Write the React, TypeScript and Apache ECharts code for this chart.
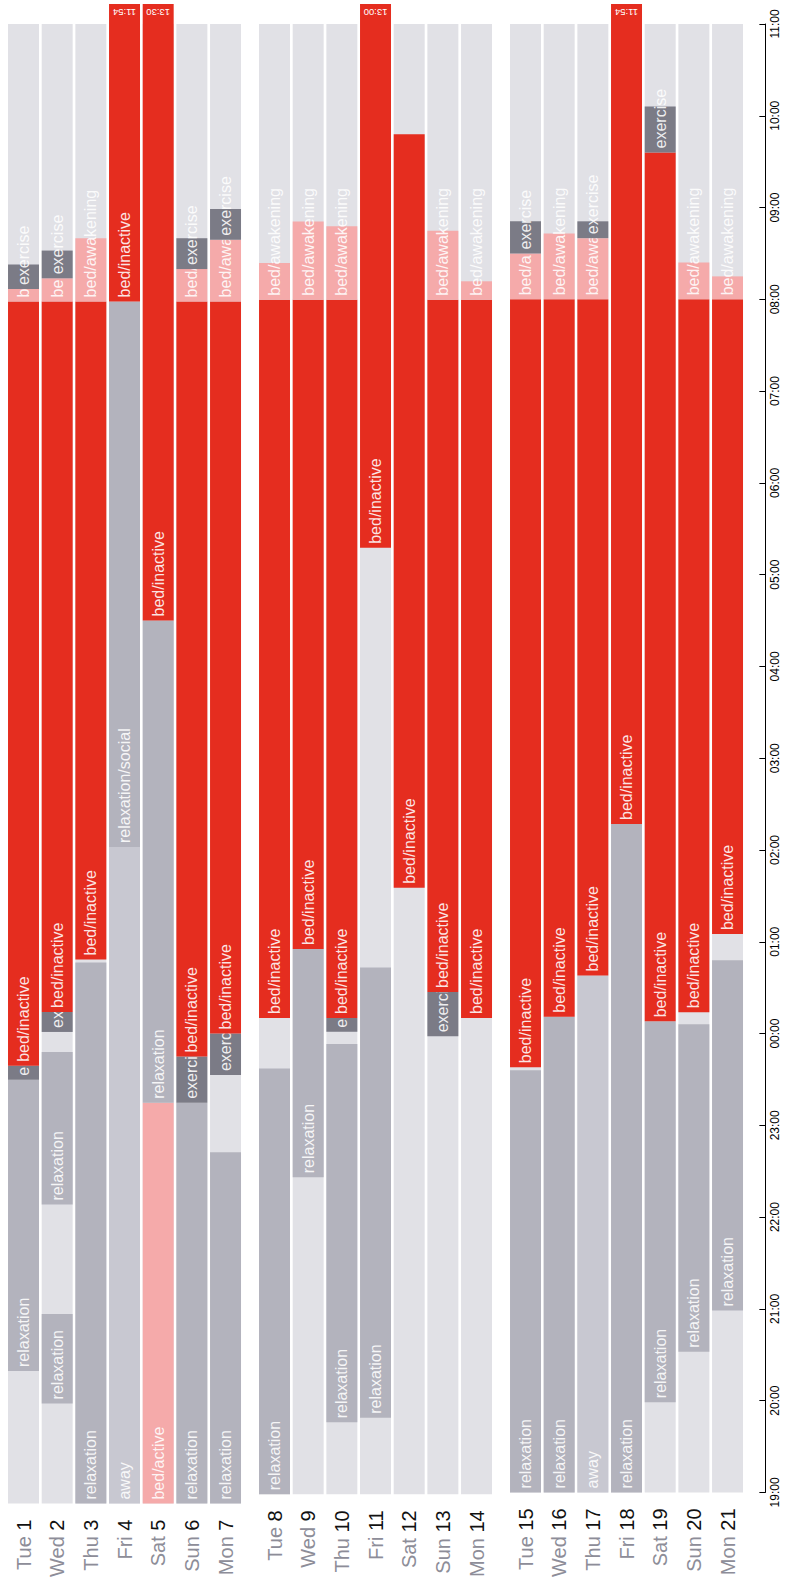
import React, { useEffect, useRef } from "react";
import * as echarts from "echarts";

const FONT = "'Helvetica Neue', Helvetica, Arial, 'Liberation Sans', sans-serif";

const days = [
  "Tue 1", "Wed 2", "Thu 3", "Fri 4", "Sat 5", "Sun 6", "Mon 7",
  "Tue 8", "Wed 9", "Thu 10", "Fri 11", "Sat 12", "Sun 13", "Mon 14",
  "Tue 15", "Wed 16", "Thu 17", "Fri 18", "Sat 19", "Sun 20", "Mon 21",
];

const timeTicks = [
  "19:00", "20:00", "21:00", "22:00", "23:00", "00:00", "01:00", "02:00", "03:00",
  "04:00", "05:00", "06:00", "07:00", "08:00", "09:00", "10:00", "11:00",
];

const activityColors: Record<string, string> = {
  "relaxation": "#b3b3bd",
  "relaxation/social": "#b3b3bd",
  "away": "#c8c8d1",
  "exercise": "#7b7b86",
  "bed/inactive": "#e52d1f",
  "bed/awakening": "#f5aaaa",
  "bed/active": "#f5aaaa",
};
const emptyColor = "#e1e1e6";

// [day index within week, start, end, activity]
const week1: [number, string, string, string][] = [
  [0, "20:26", "23:35", "relaxation"],
  [0, "23:35", "23:44", "exercise"],
  [0, "23:44", "08:00", "bed/inactive"],
  [0, "08:00", "08:08", "bed/awakening"],
  [0, "08:08", "08:24", "exercise"],
  [1, "20:05", "21:03", "relaxation"],
  [1, "22:14", "23:53", "relaxation"],
  [1, "00:06", "00:19", "exercise"],
  [1, "00:19", "08:00", "bed/inactive"],
  [1, "08:00", "08:15", "bed/awakening"],
  [1, "08:15", "08:33", "exercise"],
  [2, "19:00", "00:51", "relaxation"],
  [2, "00:53", "08:00", "bed/inactive"],
  [2, "08:00", "08:41", "bed/awakening"],
  [3, "19:00", "02:06", "away"],
  [3, "02:06", "08:00", "relaxation/social"],
  [3, "08:00", "11:54", "bed/inactive"],
  [4, "19:00", "23:20", "bed/active"],
  [4, "23:20", "04:33", "relaxation"],
  [4, "04:33", "13:30", "bed/inactive"],
  [5, "19:00", "23:20", "relaxation"],
  [5, "23:20", "23:50", "exercise"],
  [5, "23:50", "08:00", "bed/inactive"],
  [5, "08:00", "08:21", "bed/awakening"],
  [5, "08:21", "08:41", "exercise"],
  [6, "19:00", "22:48", "relaxation"],
  [6, "23:38", "00:05", "exercise"],
  [6, "00:05", "08:00", "bed/inactive"],
  [6, "08:00", "08:40", "bed/awakening"],
  [6, "08:40", "09:00", "exercise"],
];

const week2: [number, string, string, string][] = [
  [0, "19:00", "23:38", "relaxation"],
  [0, "00:11", "08:00", "bed/inactive"],
  [0, "08:00", "08:24", "bed/awakening"],
  [1, "22:27", "00:56", "relaxation"],
  [1, "00:56", "08:00", "bed/inactive"],
  [1, "08:00", "08:51", "bed/awakening"],
  [2, "19:47", "23:54", "relaxation"],
  [2, "00:02", "00:11", "exercise"],
  [2, "00:11", "08:00", "bed/inactive"],
  [2, "08:00", "08:48", "bed/awakening"],
  [3, "19:50", "00:44", "relaxation"],
  [3, "05:18", "13:00", "bed/inactive"],
  [4, "01:36", "09:48", "bed/inactive"],
  [5, "23:59", "00:28", "exercise"],
  [5, "00:28", "08:00", "bed/inactive"],
  [5, "08:00", "08:45", "bed/awakening"],
  [6, "00:11", "08:00", "bed/inactive"],
  [6, "08:00", "08:12", "bed/awakening"],
];

const week3: [number, string, string, string][] = [
  [0, "19:00", "23:36", "relaxation"],
  [0, "23:38", "08:00", "bed/inactive"],
  [0, "08:00", "08:30", "bed/awakening"],
  [0, "08:30", "08:51", "exercise"],
  [1, "19:00", "00:11", "relaxation"],
  [1, "00:11", "08:00", "bed/inactive"],
  [1, "08:00", "08:43", "bed/awakening"],
  [2, "19:00", "00:38", "away"],
  [2, "00:38", "08:00", "bed/inactive"],
  [2, "08:00", "08:40", "bed/awakening"],
  [2, "08:40", "08:51", "exercise"],
  [3, "19:00", "02:17", "relaxation"],
  [3, "02:17", "11:54", "bed/inactive"],
  [4, "19:59", "00:08", "relaxation"],
  [4, "00:08", "09:36", "bed/inactive"],
  [4, "09:36", "10:06", "exercise"],
  [5, "20:32", "00:06", "relaxation"],
  [5, "00:14", "08:00", "bed/inactive"],
  [5, "08:00", "08:24", "bed/awakening"],
  [6, "20:59", "00:48", "relaxation"],
  [6, "01:05", "08:00", "bed/inactive"],
  [6, "08:00", "08:15", "bed/awakening"],
];

const weeks = [week1, week2, week3];
const AXIS_MAX = 16; // 19:00 -> 11:00

function toOffset(t: string): number {
  const [h, m] = t.split(":").map(Number);
  const hh = h >= 19 ? h - 19 : h + 5;
  return hh + m / 60;
}

function prepare(week: [number, string, string, string][]) {
  return week.map((seg, i) => {
    const next = week[i + 1];
    const limit = next && next[0] === seg[0] ? toOffset(next[1]) : AXIS_MAX;
    return {
      value: [seg[0], toOffset(seg[1]), toOffset(seg[2]), limit],
      activity: seg[3],
      endLabel: seg[2],
    };
  });
}

export default function App() {
  const ref = useRef<HTMLDivElement>(null);
  useEffect(() => {
    if (!ref.current) return;
    const chart = echarts.init(ref.current, undefined, { renderer: "svg" });
    const series: any[] = [];
    weeks.forEach((week, g) => {
      const prepared = prepare(week);
      series.push({
        type: "custom",
        xAxisIndex: g,
        yAxisIndex: g,
        silent: true,
        data: [0, 1, 2, 3, 4, 5, 6].map((i) => [i, 0, AXIS_MAX]),
        renderItem: (params: any, api: any) => {
          const x = api.value(0);
          const pb = api.coord([x, 0]);
          const pt = api.coord([x, AXIS_MAX]);
          const bw = api.size([1, 0])[0] * 0.92;
          return {
            type: "rect",
            shape: { x: pb[0] - bw / 2, y: pt[1], width: bw, height: pb[1] - pt[1] },
            style: { fill: emptyColor },
          };
        },
      });
      series.push({
        type: "custom",
        xAxisIndex: g,
        yAxisIndex: g,
        silent: true,
        clip: false,
        data: prepared.map((p) => p.value),
        renderItem: (params: any, api: any) => {
          const item = prepared[params.dataIndex];
          const x = api.value(0);
          const s = api.value(1);
          const e = api.value(2);
          const lim = api.value(3);
          const pb = api.coord([x, s]);
          const pt = api.coord([x, Math.min(e, AXIS_MAX)]);
          const pl = api.coord([x, lim]);
          const bw = api.size([1, 0])[0] * 0.92;
          const capped = e > AXIS_MAX;
          const top = capped ? pt[1] - 20 : pt[1];
          const children: any[] = [
            {
              type: "rect",
              shape: { x: pb[0] - bw / 2, y: top, width: bw, height: pb[1] - top },
              style: { fill: activityColors[item.activity] },
            },
            {
              type: "text",
              x: pb[0],
              y: pb[1] - 4,
              rotation: Math.PI / 2,
              style: {
                text: item.activity,
                fill: "rgba(255,255,255,0.88)",
                fontSize: 16,
                fontFamily: FONT,
                align: "left",
                verticalAlign: "middle",
                textAlign: "left",
                textVerticalAlign: "middle",
                width: Math.max(0, pb[1] - pl[1] + 1),
                overflow: "truncate",
                ellipsis: "",
              },
            },
          ];
          if (capped) {
            children.push({
              type: "text",
              x: pb[0],
              y: top + 8,
              rotation: Math.PI,
              style: {
                text: item.endLabel,
                fill: "#ffffff",
                fontSize: 9.5,
                fontFamily: FONT,
                align: "center",
                verticalAlign: "middle",
                textAlign: "center",
                textVerticalAlign: "middle",
              },
            });
          }
          return { type: "group", children };
        },
      });
    });

    const option: any = {
      animation: false,
      grid: weeks.map((_, g) => ({
        left: 6.67 + g * 251,
        top: 24,
        width: 235.7,
        bottom: 74.3,
      })),
      xAxis: weeks.map((_, g) => ({
        type: "category",
        gridIndex: g,
        data: days.slice(g * 7, g * 7 + 7),
        axisLine: { show: false },
        axisTick: { show: false },
        splitLine: { show: false },
        axisLabel: {
          rotate: 90,
          margin: 16,
          fontSize: 20,
          fontFamily: FONT,
          formatter: (v: string) => {
            const [d, n] = v.split(" ");
            return `{d|${d}} {n|${n}}`;
          },
          rich: {
            d: { color: "#8d8d98", fontSize: 20, fontFamily: FONT },
            n: { color: "#111111", fontSize: 20, fontFamily: FONT },
          },
        },
      })),
      yAxis: weeks.map((_, g) => ({
        type: "value",
        gridIndex: g,
        min: 0,
        max: AXIS_MAX,
        interval: 1,
        show: g === 2,
        position: "right",
        offset: 21,
        splitLine: { show: false },
        axisLine: { show: true, lineStyle: { color: "#000", width: 1 } },
        axisTick: { show: true, inside: true, length: 6, lineStyle: { color: "#000" } },
        axisLabel: {
          rotate: 90,
          margin: 4,
          fontSize: 12,
          color: "#000",
          fontFamily: FONT,
          formatter: (v: number) => timeTicks[Math.round(v)] ?? "",
        },
      })),
      series,
    };
    chart.setOption(option);
    return () => chart.dispose();
  }, []);

  return (
    <div
      ref={ref}
      style={{ position: "absolute", left: 0, top: 0, width: 798, height: 1580, background: "#fff" }}
    />
  );
}
